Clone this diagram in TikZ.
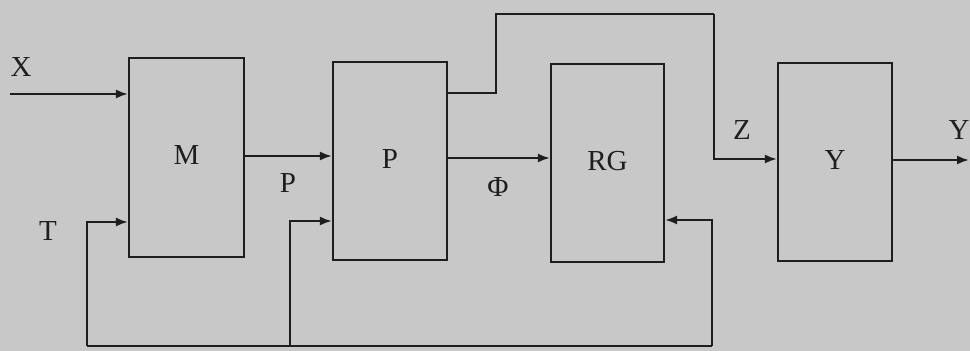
\documentclass[tikz,border=0pt]{standalone}
\usepackage{fontspec}
\setmainfont{Liberation Serif}
\usetikzlibrary{arrows.meta}
\definecolor{paper}{RGB}{200,200,200}
\definecolor{ink}{RGB}{30,30,30}
\newcommand{\uplift}[1]{\raisebox{4pt}{#1}}
\begin{document}
\begin{tikzpicture}[x=1pt,y=1pt,
  blk/.style={draw=ink, line width=2.2pt, inner sep=0pt, font=\fontsize{29}{32}\selectfont, text=ink},
  lbl/.style={font=\fontsize{29}{32}\selectfont, text=ink, inner sep=0pt},
  wire/.style={draw=ink, line width=2pt},
  arr/.style={wire, -{Latex[length=12pt,width=9pt]}}]
\fill[paper] (0,0) rectangle (970,351);
\useasboundingbox (0,0) rectangle (970,351);
% blocks
\node[blk, minimum width=115pt, minimum height=199pt] (M) at (186.5,193.5) {\uplift{M}};
\node[blk, minimum width=114pt, minimum height=198pt] (P) at (390,190) {\uplift{P}};
\node[blk, minimum width=113pt, minimum height=198pt] (RG) at (607.5,188) {\uplift{RG}};
\node[blk, minimum width=114pt, minimum height=198pt] (Y) at (835,189) {\uplift{Y}};
% free ends and bends
\coordinate (xin) at (10,257);
\coordinate (yout) at (969,191);
\coordinate (busL) at (87,5);
\coordinate (busM) at (290,5);
\coordinate (busR) at (712,5);
\coordinate (up1) at (496,258);
\coordinate (top1) at (496,337);
\coordinate (top2) at (714,337);
% connectors
\draw[arr] (xin) -- (xin -| M.west);
\draw[arr] (M.east |- 0,195) -- (P.west |- 0,195);
\draw[arr] (P.east |- 0,193) -- (RG.west |- 0,193);
\draw[wire] (P.east |- up1) -- (up1) -- (top1) -- (top2);
\draw[arr] (top2) |- (Y.west |- 0,192);
\draw[arr] (Y.east |- yout) -- (yout);
\draw[wire] (busL) -- (busR);
\draw[arr] (busL) |- (M.west |- 0,129);
\draw[arr] (busM) |- (P.west |- 0,130);
\draw[arr] (busR) |- (RG.east |- 0,131);
% labels
\node[lbl] (lX) at (21,284) {X};
\node[lbl] (lT) at (48,120) {T};
\node[lbl] (lP) at (288,168) {P};
\node[lbl] (lF) at (498,164) {Φ};
\node[lbl] (lZ) at (742,221) {Z};
\node[lbl] (lY) at (959,221) {Y};
\end{tikzpicture}
\end{document}
